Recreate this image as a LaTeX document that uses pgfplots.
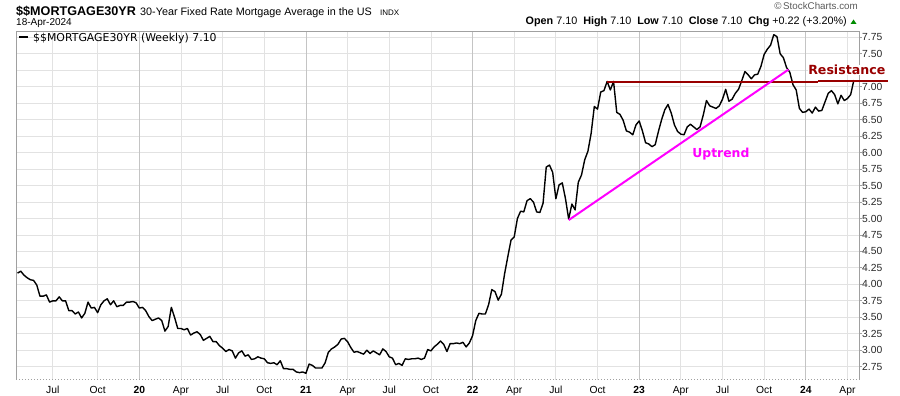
\documentclass[border=0pt]{standalone}
\usepackage{fontspec}
\setmainfont{Liberation Sans}
\newfontfamily\dejavu{DejaVu Sans}
\usepackage{pgfplots}
\usepackage{pgfplotstable}
\pgfplotsset{compat=1.18}
\definecolor{gridgray}{RGB}{226,226,226}
\definecolor{yeargray}{RGB}{196,196,196}
\definecolor{framegray}{RGB}{160,160,160}
\definecolor{resred}{RGB}{153,0,0}
\definecolor{upmag}{RGB}{255,0,255}
\definecolor{upgreen}{RGB}{0,140,0}
\definecolor{hdrgray}{RGB}{90,90,90}

% x = weeks since the release of 9-Jan-2020, y = rate (%)
\pgfplotstableread{
x y
-38 4.17
-37 4.20
-36 4.14
-35 4.10
-34 4.07
-33 4.06
-32 3.99
-31 3.82
-30 3.82
-29 3.84
-28 3.73
-27 3.75
-26 3.75
-25 3.81
-24 3.75
-23 3.75
-22 3.60
-21 3.60
-20 3.55
-19 3.58
-18 3.49
-17 3.56
-16 3.73
-15 3.64
-14 3.65
-13 3.57
-12 3.69
-11 3.75
-10 3.78
-9 3.69
-8 3.75
-7 3.66
-6 3.68
-5 3.68
-4 3.73
-3 3.73
-2 3.74
-1 3.72
0 3.64
1 3.65
2 3.60
3 3.51
4 3.45
5 3.47
6 3.49
7 3.45
8 3.29
9 3.36
10 3.65
11 3.50
12 3.33
13 3.33
14 3.31
15 3.33
16 3.23
17 3.26
18 3.28
19 3.24
20 3.15
21 3.18
22 3.21
23 3.13
24 3.13
25 3.07
26 3.03
27 2.98
28 3.01
29 2.99
30 2.88
31 2.96
32 2.99
33 2.91
34 2.93
35 2.86
36 2.87
37 2.90
38 2.88
39 2.87
40 2.81
41 2.80
42 2.81
43 2.78
44 2.84
45 2.72
46 2.72
47 2.71
48 2.71
49 2.67
50 2.66
51 2.67
52 2.65
53 2.79
54 2.77
55 2.73
56 2.73
57 2.73
58 2.81
59 2.97
60 3.02
61 3.05
62 3.09
63 3.17
64 3.18
65 3.13
66 3.04
67 2.97
68 2.98
69 2.96
70 2.94
71 3.00
72 2.95
73 2.99
74 2.96
75 2.93
76 3.02
77 2.98
78 2.90
79 2.88
80 2.78
81 2.80
82 2.77
83 2.87
84 2.86
85 2.87
86 2.87
87 2.88
88 2.86
89 2.88
90 3.01
91 2.99
92 3.05
93 3.09
94 3.14
95 3.09
96 2.98
97 3.10
98 3.10
99 3.11
100 3.10
101 3.12
102 3.05
103 3.11
104 3.22
105 3.45
106 3.56
107 3.55
108 3.55
109 3.69
110 3.92
111 3.89
112 3.76
113 3.85
114 4.16
115 4.42
116 4.67
117 4.72
118 5.00
119 5.11
120 5.10
121 5.27
122 5.30
123 5.25
124 5.10
125 5.09
126 5.23
127 5.78
128 5.81
129 5.70
130 5.30
131 5.51
132 5.54
133 5.30
134 4.99
135 5.22
136 5.13
137 5.55
138 5.66
139 5.89
140 6.02
141 6.29
142 6.70
143 6.66
144 6.92
145 6.94
146 7.08
147 6.95
148 7.08
149 6.61
150 6.58
151 6.49
152 6.33
153 6.31
154 6.27
155 6.42
156 6.48
157 6.33
158 6.15
159 6.13
160 6.09
161 6.12
162 6.32
163 6.50
164 6.65
165 6.73
166 6.60
167 6.42
168 6.32
169 6.28
170 6.27
171 6.39
172 6.43
173 6.39
174 6.35
175 6.39
176 6.57
177 6.79
178 6.71
179 6.69
180 6.67
181 6.71
182 6.81
183 6.96
184 6.78
185 6.81
186 6.90
187 6.96
188 7.09
189 7.23
190 7.18
191 7.12
192 7.18
193 7.19
194 7.31
195 7.49
196 7.57
197 7.63
198 7.79
199 7.76
200 7.50
201 7.44
202 7.29
203 7.22
204 7.03
205 6.95
206 6.67
207 6.61
208 6.62
209 6.66
210 6.60
211 6.69
212 6.63
213 6.64
214 6.77
215 6.90
216 6.94
217 6.88
218 6.74
219 6.87
220 6.79
221 6.82
222 6.88
223 7.10
}\ratedata

\begin{document}
\begin{tikzpicture}[x=1pt,y=1pt]
\useasboundingbox (0,0) rectangle (900,396);
\begin{axis}[
  at={(16pt,16pt)}, anchor=south west,
  scale only axis, width=843pt, height=348.3pt,
  xmin=-38.48, xmax=224.6, ymin=2.548, ymax=7.835,
  clip=false,
  axis line style={draw=none},
  xmajorgrids, ymajorgrids,
  grid style={draw=gridgray, line width=0.8pt},
  xtick={-27,-13,13,26,39,65,78,91,117,130,143,169,182,195,221},
  xticklabels={Jul,Oct,Apr,Jul,Oct,Apr,Jul,Oct,Apr,Jul,Oct,Apr,Jul,Oct,Apr},
  extra x ticks={0,52,104,156,208},
  extra x tick labels={20,21,22,23,24},
  extra x tick style={grid style={draw=yeargray, line width=0.8pt},
    xticklabel style={font=\fontsize{10.3}{12}\selectfont\bfseries}},
  xtick style={draw=none},
  xticklabel style={font=\fontsize{10.3}{12}\selectfont, anchor=base, inner sep=0pt, yshift=-10.7pt},
  ytick={2.75,3.00,3.25,3.50,3.75,4.00,4.25,4.50,4.75,5.00,5.25,5.50,5.75,6.00,6.25,6.50,6.75,7.00,7.25,7.50,7.75},
  yticklabels={2.75,3.00,3.25,3.50,3.75,4.00,4.25,4.50,4.75,5.00,5.25,5.50,5.75,6.00,6.25,6.50,6.75,7.00,,7.50,7.75},
  ytick pos=right, yticklabel pos=right,
  ytick style={draw=framegray, line width=0.8pt},
  tick align=outside, major tick length=3pt,
  yticklabel style={font=\fontsize{10.3}{12}\selectfont, anchor=west, inner sep=0pt, xshift=0pt, text=black!85},
]
\draw[framegray, line width=0.9pt] (rel axis cs:0,0) -- (rel axis cs:0,1) -- (rel axis cs:1,1) -- (rel axis cs:1,0);
\draw[framegray, line width=1pt, dotted] (rel axis cs:0,0) -- (rel axis cs:1,0);
\addplot[black, line width=1.4pt, line join=round] table[x=x,y=y]{\ratedata};
\addplot[resred, line width=2pt] coordinates {(145.9,7.075) (211.8,7.075)};
\addplot[resred, line width=2pt] coordinates {(211.8,7.092) (233.7,7.092)};
\addplot[upmag, line width=2pt] coordinates {(134,4.976) (202.6,7.26)};
\node[anchor=base west, fill=white, inner sep=0pt, text=resred,
  font=\dejavu\fontsize{12.6}{14}\selectfont\bfseries] at (axis cs:208.7,7.187) {Resistance};
\node[anchor=base, text=upmag, font=\dejavu\fontsize{12.4}{14}\selectfont\bfseries]
  at (axis cs:181.5,5.93) {Uptrend};
\end{axis}
% header
\node[anchor=base west, inner sep=0pt, font=\fontsize{12.6}{14}\selectfont\bfseries] at (16,380.8) {\$\$MORTGAGE30YR};
\node[anchor=base west, inner sep=0pt, font=\fontsize{10.8}{12}\selectfont] at (140,380.8) {30-Year Fixed Rate Mortgage Average in the US};
\node[anchor=base west, inner sep=0pt, font=\fontsize{8}{9}\selectfont] at (380,380.8) {INDX};
\node[anchor=base west, inner sep=0pt, font=\fontsize{10}{12}\selectfont] at (16,370.3) {18-Apr-2024};
\node[anchor=base east, inner sep=0pt, text=hdrgray, font=\fontsize{9.8}{11}\selectfont] at (858,386) {\textcopyright\,StockCharts.com};
\node[anchor=base east, inner sep=0pt, font=\fontsize{10.8}{12}\selectfont] at (847,371.7)
  {\textbf{Open} 7.10\hspace{3pt} \textbf{High} 7.10\hspace{3pt} \textbf{Low} 7.10\hspace{3pt} \textbf{Close} 7.10\hspace{3pt} \textbf{Chg} +0.22 (+3.20\%)};
\fill[upgreen] (850.5,372) -- (856.5,372) -- (853.5,376.5) -- cycle;
% legend
\draw[black, line width=2.2pt] (19,359) -- (28,359);
\node[anchor=base west, inner sep=0pt, font=\dejavu\fontsize{10.9}{12}\selectfont] at (33,354.7) {\$\$MORTGAGE30YR (Weekly) 7.10};
\end{tikzpicture}
\end{document}
